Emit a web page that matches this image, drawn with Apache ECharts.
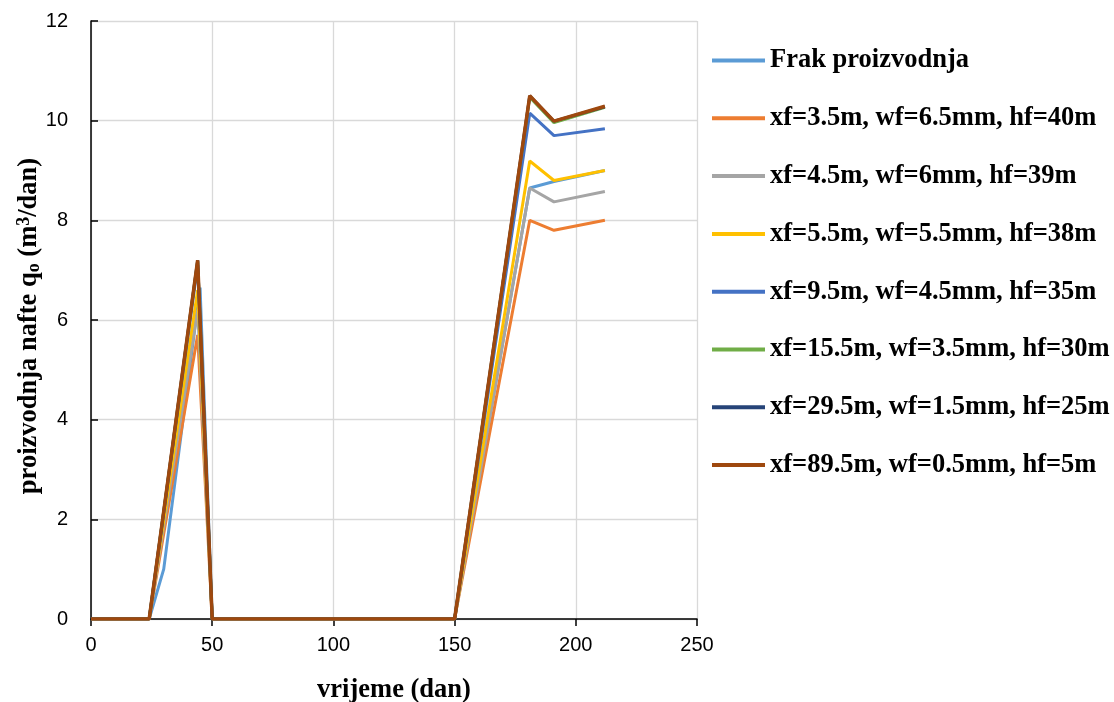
<!DOCTYPE html>
<html><head><meta charset="utf-8">
<script src="https://cdn.jsdelivr.net/npm/echarts@6/dist/echarts.min.js"></script>
<style>html,body{margin:0;padding:0;background:#fff}#c{width:1114px;height:702px}</style>
</head><body><div id="c"></div>
<script>
const seriesNames = [
  'Frak proizvodnja',
  'xf=3.5m, wf=6.5mm, hf=40m',
  'xf=4.5m, wf=6mm, hf=39m',
  'xf=5.5m, wf=5.5mm, hf=38m',
  'xf=9.5m, wf=4.5mm, hf=35m',
  'xf=15.5m, wf=3.5mm, hf=30m',
  'xf=29.5m, wf=1.5mm, hf=25m',
  'xf=89.5m, wf=0.5mm, hf=5m'
];
const colors = ['#5B9BD5','#ED7D31','#A5A5A5','#FFC000','#4472C4','#70AD47','#264478','#9E480E'];
const daysFrak = [0, 24, 30, 45, 50, 150, 181, 191, 212];
const daysSim  = [0, 24, 44, 50, 150, 181, 191, 212];
const frak   = [0, 0, 1.0, 6.65, 0, 0, 8.65, 8.78, 9.0];
const s35    = [0, 0, 5.7, 0, 0, 8.0, 7.8, 8.0];
const s45    = [0, 0, 6.2, 0, 0, 8.65, 8.37, 8.58];
const s55    = [0, 0, 6.6, 0, 0, 9.19, 8.8, 9.0];
const s95    = [0, 0, 7.1, 0, 0, 10.15, 9.7, 9.84];
const s155   = [0, 0, 7.18, 0, 0, 10.47, 9.96, 10.27];
const s295   = [0, 0, 7.2, 0, 0, 10.5, 9.99, 10.28];
const s895   = [0, 0, 7.2, 0, 0, 10.5, 9.99, 10.29];
const xTicks = [0, 50, 100, 150, 200, 250];
const yTicks = [0, 2, 4, 6, 8, 10, 12];

const allY = [frak, s35, s45, s55, s95, s155, s295, s895];
const series = allY.map((ys, i) => {
  const xs = i === 0 ? daysFrak : daysSim;
  return {
    name: seriesNames[i], type: 'line', showSymbol: false, symbol: 'none',
    data: ys.map((y, k) => [xs[k], y]),
    lineStyle: {color: colors[i], width: i === 7 ? 3.5 : 3},
    itemStyle: {color: colors[i]},
    z: 2 + i
  };
});

const titleFont = {fontFamily: 'Liberation Serif', fontWeight: 'bold', fontSize: 26.5, color: '#000'};
const chart = echarts.init(document.getElementById('c'), null, {renderer: 'canvas'});
chart.setOption({
  animation: false,
  color: colors,
  grid: {left: 91, top: 21, width: 606, height: 598, containLabel: false, outerBoundsMode: 'none'},
  legend: {
    orient: 'vertical', left: 707, top: 42,
    itemWidth: 53, itemHeight: 26, itemGap: 30.8,
    icon: 'path://M0,11 L53,11 L53,15 L0,15 Z',
    textStyle: {fontFamily: 'Liberation Serif', fontWeight: 'bold', fontSize: 26.5, color: '#000'},
    data: seriesNames
  },
  xAxis: {
    type: 'value', min: 0, max: 250, interval: 50,
    name: 'vrijeme (dan)', nameLocation: 'middle', nameGap: 58, nameMoveOverlap: false,
    nameTextStyle: titleFont,
    axisLine: {show: true, lineStyle: {color: '#000', width: 1.5}},
    axisTick: {show: true, length: 7, lineStyle: {color: '#000', width: 1.5}},
    axisLabel: {fontFamily: 'Liberation Sans', fontSize: 20, color: '#000', margin: 16},
    splitLine: {show: true, lineStyle: {color: '#d9d9d9', width: 1.3}}
  },
  yAxis: {
    type: 'value', min: 0, max: 12, interval: 2,
    name: '{a|proizvodnja nafte q}{sub|o}{a| (m}{sup|3}{a|/dan)}',
    nameLocation: 'middle', nameGap: 45, nameRotate: 90, nameMoveOverlap: false,
    nameTextStyle: {
      padding: [0, 12, 0, 0],
      rich: {
        a: Object.assign({lineHeight: 34, verticalAlign: 'middle'}, titleFont),
        sub: {fontFamily: 'Liberation Serif', fontWeight: 'bold', fontSize: 18, color: '#000', lineHeight: 34, verticalAlign: 'bottom', padding: [0,0,3,0]},
        sup: {fontFamily: 'Liberation Serif', fontWeight: 'bold', fontSize: 18, color: '#000', lineHeight: 34, verticalAlign: 'top', padding: [3,0,0,0]}
      }
    },
    axisLine: {show: true, lineStyle: {color: '#000', width: 1.5}},
    axisTick: {show: true, inside: true, length: 7, lineStyle: {color: '#000', width: 1.5}},
    axisLabel: {fontFamily: 'Liberation Sans', fontSize: 20, color: '#000', margin: 23},
    splitLine: {show: true, lineStyle: {color: '#d9d9d9', width: 1.3}}
  },
  series: series
});
</script></body></html>
